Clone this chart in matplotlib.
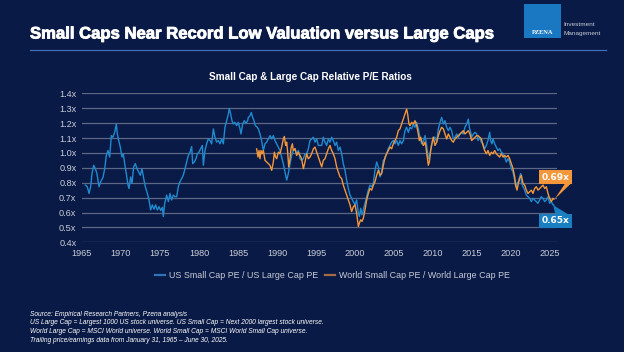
import matplotlib
matplotlib.use('Agg')
import matplotlib.pyplot as plt
import matplotlib.patheffects as pe
from matplotlib.patches import Rectangle, Polygon
from matplotlib.lines import Line2D

# ============================================
# DATA
# ============================================
us_years = [
    1965.43, 1965.68, 1965.90, 1966.11, 1966.28, 1966.50, 1966.71, 1966.92, 1967.18, 1967.39,
    1967.69, 1967.91, 1968.12, 1968.33, 1968.55, 1968.76, 1968.97, 1969.19, 1969.40, 1969.53,
    1969.70, 1969.91, 1970.13, 1970.30, 1970.47, 1970.68, 1970.90, 1971.03, 1971.24, 1971.41,
    1971.62, 1971.84, 1972.05, 1972.26, 1972.48, 1972.69, 1972.91, 1973.12, 1973.38, 1973.59,
    1973.80, 1974.02, 1974.23, 1974.44, 1974.66, 1974.87, 1975.09, 1975.30, 1975.43, 1975.60,
    1975.77, 1975.85, 1976.07, 1976.28, 1976.50, 1976.71, 1976.92, 1977.14, 1977.35, 1977.56,
    1977.78, 1977.99, 1978.21, 1978.42, 1978.63, 1978.85, 1979.06, 1979.19, 1979.40, 1979.62,
    1979.79, 1980.00, 1980.21, 1980.43, 1980.56, 1980.77, 1980.98, 1981.20, 1981.41, 1981.62,
    1981.84, 1982.05, 1982.26, 1982.48, 1982.69, 1982.91, 1983.12, 1983.33, 1983.55, 1983.76,
    1983.89, 1984.06, 1984.23, 1984.40, 1984.62, 1984.83, 1985.04, 1985.26, 1985.38, 1985.60,
    1985.81, 1986.03, 1986.24, 1986.32, 1986.54, 1986.71, 1986.88, 1987.05, 1987.22, 1987.39,
    1987.61, 1987.82, 1988.03, 1988.25, 1988.46, 1988.67, 1988.89, 1989.10, 1989.32, 1989.53,
    1989.74, 1989.96, 1990.17, 1990.38, 1990.60, 1990.81, 1991.03, 1991.24, 1991.45, 1991.67,
    1991.88, 1992.09, 1992.31, 1992.52, 1992.74, 1992.95, 1993.16, 1993.38, 1993.59, 1993.80,
    1994.02, 1994.23, 1994.44, 1994.66, 1994.87, 1995.09, 1995.30, 1995.51, 1995.73, 1995.94,
    1996.15, 1996.37, 1996.58, 1996.79, 1997.01, 1997.22, 1997.44, 1997.65, 1997.86, 1998.08,
    1998.29, 1998.50, 1998.72, 1998.93, 1999.15, 1999.36, 1999.57, 1999.79, 2000.00, 2000.21,
    2000.43, 2000.56, 2000.73, 2000.90, 2001.07, 2001.28, 2001.50, 2001.71, 2001.92, 2002.14,
    2002.35, 2002.56, 2002.78, 2002.99, 2003.21, 2003.42, 2003.63, 2003.85, 2004.06, 2004.27,
    2004.49, 2004.70, 2004.91, 2005.13, 2005.34, 2005.56, 2005.77, 2005.98, 2006.20, 2006.41,
    2006.62, 2006.84, 2007.05, 2007.27, 2007.48, 2007.69, 2007.91, 2008.12, 2008.33, 2008.55,
    2008.76, 2008.98, 2009.19, 2009.40, 2009.62, 2009.83, 2010.04, 2010.26, 2010.47, 2010.68,
    2010.90, 2011.11, 2011.33, 2011.54, 2011.75, 2011.97, 2012.18, 2012.39, 2012.61, 2012.82,
    2013.03, 2013.25, 2013.46, 2013.68, 2013.89, 2014.10, 2014.32, 2014.53, 2014.66, 2014.83,
    2014.96, 2015.17, 2015.39, 2015.60, 2015.77, 2015.98, 2016.20, 2016.41, 2016.62, 2016.84,
    2017.05, 2017.27, 2017.39, 2017.56, 2017.69, 2017.91, 2018.12, 2018.33, 2018.55, 2018.76,
    2018.98, 2019.19, 2019.40, 2019.62, 2019.83, 2020.04, 2020.26, 2020.47, 2020.60, 2020.77,
    2020.94, 2021.11, 2021.24, 2021.37, 2021.54, 2021.75, 2021.97, 2022.18, 2022.39, 2022.61,
    2022.82, 2023.03, 2023.25, 2023.46, 2023.68, 2023.89, 2024.10, 2024.32, 2024.53, 2024.74,
    2024.96, 2025.17, 2025.38, 2025.50,
]
us_pe = [
    0.784, 0.773, 0.728, 0.773, 0.861, 0.917, 0.894, 0.861, 0.773, 0.806,
    0.835, 0.894, 0.983, 1.016, 0.972, 1.116, 1.105, 1.138, 1.194, 1.127,
    1.083, 1.039, 0.972, 0.994, 0.928, 0.861, 0.784, 0.761, 0.839, 0.795,
    0.906, 0.928, 0.894, 0.872, 0.850, 0.894, 0.828, 0.773, 0.728, 0.684,
    0.617, 0.651, 0.622, 0.651, 0.617, 0.639, 0.613, 0.635, 0.573, 0.662,
    0.695, 0.717, 0.673, 0.728, 0.684, 0.717, 0.706, 0.706, 0.773, 0.806,
    0.828, 0.850, 0.894, 0.939, 0.983, 1.005, 1.043, 0.928, 0.939, 0.961,
    0.994, 1.005, 1.028, 1.050, 0.917, 1.016, 1.061, 1.094, 1.083, 1.061,
    1.161, 1.105, 1.072, 1.083, 1.061, 1.094, 1.061, 1.172, 1.216, 1.260,
    1.298, 1.260, 1.216, 1.194, 1.205, 1.183, 1.205, 1.161, 1.127, 1.194,
    1.216, 1.198, 1.216, 1.238, 1.249, 1.271, 1.238, 1.216, 1.183, 1.176,
    1.161, 1.127, 1.083, 1.016, 1.061, 1.072, 1.094, 1.116, 1.094, 1.116,
    1.083, 1.061, 1.039, 1.016, 0.972, 0.928, 0.872, 0.817, 0.861, 0.928,
    0.983, 1.016, 1.028, 0.994, 1.016, 0.961, 0.950, 0.961, 0.994, 0.994,
    1.028, 1.083, 1.094, 1.105, 1.072, 1.094, 1.050, 1.050, 1.050, 1.105,
    1.072, 1.050, 1.094, 1.072, 1.105, 1.083, 1.050, 1.072, 1.016, 1.039,
    0.994, 0.928, 0.883, 0.817, 0.761, 0.717, 0.695, 0.673, 0.651, 0.684,
    0.595, 0.573, 0.628, 0.584, 0.617, 0.662, 0.706, 0.750, 0.784, 0.773,
    0.795, 0.883, 0.939, 0.906, 0.839, 0.872, 0.950, 0.961, 0.994, 1.028,
    1.050, 1.072, 1.083, 1.061, 1.083, 1.050, 1.083, 1.061, 1.083, 1.149,
    1.172, 1.138, 1.172, 1.161, 1.194, 1.172, 1.205, 1.161, 1.105, 1.061,
    1.072, 1.116, 1.050, 0.961, 0.994, 1.061, 1.105, 1.105, 1.072, 1.160,
    1.205, 1.238, 1.194, 1.216, 1.172, 1.149, 1.172, 1.149, 1.094, 1.105,
    1.127, 1.105, 1.127, 1.138, 1.127, 1.172, 1.194, 1.227, 1.172, 1.138,
    1.105, 1.127, 1.138, 1.127, 1.083, 1.105, 1.072, 1.061, 1.028, 1.050,
    1.083, 1.138, 1.083, 1.061, 1.094, 1.061, 1.039, 1.016, 1.028, 1.005,
    0.994, 0.972, 0.939, 0.961, 0.939, 0.894, 0.872, 0.817, 0.773, 0.795,
    0.806, 0.839, 0.861, 0.795, 0.773, 0.750, 0.717, 0.706, 0.695, 0.673,
    0.695, 0.684, 0.673, 0.662, 0.684, 0.706, 0.695, 0.673, 0.684, 0.706,
    0.662, 0.673, 0.651, 0.650,
]

world_years = [
    1987.39, 1987.56, 1987.69, 1987.82, 1987.95, 1988.08, 1988.25, 1988.46, 1988.67, 1988.89,
    1989.10, 1989.32, 1989.53, 1989.66, 1989.83, 1989.96, 1990.17, 1990.38, 1990.60, 1990.81,
    1990.94, 1991.11, 1991.24, 1991.37, 1991.50, 1991.67, 1991.79, 1991.97, 1992.09, 1992.31,
    1992.52, 1992.74, 1992.95, 1993.16, 1993.38, 1993.59, 1993.80, 1994.02, 1994.23, 1994.44,
    1994.66, 1994.87, 1995.09, 1995.30, 1995.51, 1995.73, 1995.94, 1996.15, 1996.37, 1996.58,
    1996.79, 1997.01, 1997.22, 1997.44, 1997.65, 1997.86, 1998.08, 1998.29, 1998.50, 1998.72,
    1998.93, 1999.15, 1999.36, 1999.57, 1999.79, 2000.00, 2000.21, 2000.43, 2000.56, 2000.73,
    2000.90, 2001.07, 2001.28, 2001.50, 2001.71, 2001.92, 2002.14, 2002.35, 2002.56, 2002.78,
    2002.99, 2003.21, 2003.42, 2003.63, 2003.85, 2004.06, 2004.27, 2004.49, 2004.70, 2004.91,
    2005.13, 2005.34, 2005.56, 2005.77, 2005.98, 2006.20, 2006.41, 2006.62, 2006.75, 2006.92,
    2007.05, 2007.27, 2007.48, 2007.69, 2007.91, 2008.12, 2008.25, 2008.42, 2008.59, 2008.76,
    2008.98, 2009.10, 2009.27, 2009.40, 2009.53, 2009.70, 2009.87, 2010.04, 2010.26, 2010.47,
    2010.68, 2010.90, 2011.11, 2011.33, 2011.54, 2011.75, 2011.97, 2012.18, 2012.39, 2012.61,
    2012.82, 2013.03, 2013.25, 2013.46, 2013.68, 2013.89, 2014.10, 2014.32, 2014.53, 2014.74,
    2014.96, 2015.17, 2015.39, 2015.60, 2015.77, 2015.98, 2016.20, 2016.41, 2016.62, 2016.84,
    2017.05, 2017.27, 2017.48, 2017.69, 2017.91, 2018.12, 2018.33, 2018.55, 2018.76, 2018.98,
    2019.19, 2019.40, 2019.62, 2019.83, 2020.04, 2020.26, 2020.47, 2020.60, 2020.77, 2020.94,
    2021.11, 2021.33, 2021.54, 2021.75, 2021.97, 2022.18, 2022.39, 2022.61, 2022.82, 2023.03,
    2023.25, 2023.46, 2023.68, 2023.89, 2024.10, 2024.32, 2024.53, 2024.74, 2024.96, 2025.17,
    2025.38, 2025.50,
]
world_pe = [
    1.027, 0.972, 1.016, 0.961, 1.016, 0.994, 1.016, 0.950, 0.939, 0.928,
    0.917, 0.883, 0.939, 1.005, 0.972, 0.961, 1.005, 0.994, 1.039, 1.094,
    1.110, 1.050, 1.072, 1.005, 0.906, 0.961, 1.028, 1.061, 1.016, 1.028,
    0.983, 1.005, 0.983, 0.961, 0.894, 0.939, 0.994, 0.961, 0.972, 0.994,
    1.027, 1.039, 1.005, 0.972, 0.939, 0.906, 0.950, 0.961, 0.994, 1.027,
    1.050, 1.016, 0.994, 0.961, 0.906, 0.872, 0.839, 0.828, 0.784, 0.750,
    0.717, 0.684, 0.651, 0.606, 0.639, 0.651, 0.595, 0.506, 0.529, 0.551,
    0.540, 0.562, 0.617, 0.684, 0.728, 0.761, 0.750, 0.784, 0.806, 0.850,
    0.883, 0.850, 0.861, 0.917, 0.972, 0.994, 1.016, 1.039, 1.028, 1.061,
    1.083, 1.105, 1.150, 1.161, 1.194, 1.227, 1.260, 1.294, 1.260, 1.194,
    1.183, 1.205, 1.194, 1.216, 1.183, 1.127, 1.083, 1.105, 1.072, 1.050,
    1.072, 1.039, 0.972, 0.917, 0.939, 1.016, 1.061, 1.105, 1.050, 1.072,
    1.116, 1.149, 1.172, 1.161, 1.127, 1.094, 1.127, 1.105, 1.083, 1.072,
    1.094, 1.105, 1.116, 1.127, 1.138, 1.149, 1.127, 1.138, 1.149, 1.127,
    1.083, 1.094, 1.105, 1.116, 1.116, 1.105, 1.094, 1.050, 1.016, 0.994,
    1.016, 0.983, 1.005, 0.994, 1.016, 0.994, 0.983, 0.972, 0.994, 0.972,
    0.983, 0.972, 0.983, 0.961, 0.928, 0.894, 0.839, 0.784, 0.750, 0.795,
    0.828, 0.850, 0.795, 0.784, 0.750, 0.728, 0.739, 0.750, 0.728, 0.761,
    0.773, 0.750, 0.761, 0.773, 0.784, 0.761, 0.773, 0.728, 0.695, 0.673,
    0.695, 0.690,
]

year_ticks = [1965, 1970, 1975, 1980, 1985, 1990, 1995, 2000, 2005, 2010, 2015, 2020, 2025]
pe_ticks = [0.4, 0.5, 0.6, 0.7, 0.8, 0.9, 1.0, 1.1, 1.2, 1.3, 1.4]

us_label = 'US Small Cap PE / US Large Cap PE'
world_label = 'World Small Cap PE / World Large Cap PE'
footnotes = [
    'Source: Empirical Research Partners, Pzena analysis',
    'US Large Cap = Largest 1000 US stock universe. US Small Cap = Next 2000 largest stock universe.',
    'World Large Cap = MSCI World universe. World Small Cap = MSCI World Small Cap universe.',
    'Trailing price/earnings data from January 31, 1965 \u2013 June 30, 2025.',
]

# ============================================
# STYLE
# ============================================
BG = '#0a1a46'
BLUE = '#1f8ad0'
ORANGE = '#f3973a'
GRID = '#5d6885'
TICK = '#c9cdd8'
NARROW = ['Liberation Sans Narrow', 'Liberation Sans', 'DejaVu Sans']
W, H = 624, 352

fig = plt.figure(figsize=(W / 100, H / 100), dpi=100, facecolor=BG)

def fx(px):
    return px / W

def fy(py):
    return 1 - py / H

# title + rule
t = fig.text(fx(30), fy(34), 'Small Caps Near Record Low Valuation versus Large Caps',
             color='white', fontsize=12.0, fontweight='bold', family=['Liberation Sans', 'DejaVu Sans'],
             ha='left', va='center')
t.set_path_effects([pe.withStroke(linewidth=0.6, foreground='white')])
fig.add_artist(Line2D([fx(30), fx(606)], [fy(49.5), fy(49.5)], color='#3f6fb5', lw=0.9))

# logo
fig.add_artist(Rectangle((fx(524), fy(38)), fx(37), 34 / H, facecolor='#1a78c2', edgecolor='none'))
fig.text(fx(542.5), fy(33), 'PZENA', color='white', fontsize=4.6, fontweight='bold',
         family=['Liberation Serif', 'DejaVu Serif'], ha='center', va='center')
fig.text(fx(563), fy(25), 'Investment', color='#c7ccd6', fontsize=4.6, family=NARROW, ha='left', va='center')
fig.text(fx(563), fy(33), 'Management', color='#c7ccd6', fontsize=4.6, family=NARROW, ha='left', va='center')

# chart subtitle
fig.text(fx(310), fy(77), 'Small Cap & Large Cap Relative P/E Ratios', color='white',
         fontsize=7.2, fontweight='bold', family=['Liberation Sans', 'DejaVu Sans'],
         ha='center', va='center')

# ============================================
# AXES
# ============================================
ax = fig.add_axes([fx(82), fy(242.3), (556.7 - 82) / W, (242.3 - 93.3) / H])
ax.set_facecolor(BG)
ax.set_xlim(1965, 2025.86)
ax.set_ylim(0.4, 1.4)
for v in pe_ticks:
    ax.axhline(v, color=GRID, lw=0.9, zorder=1)

ax.plot(us_years, us_pe, color=BLUE, lw=1.0, zorder=3)
ax.plot(world_years, world_pe, color=ORANGE, lw=1.0, zorder=4)

ax.set_xticks(year_ticks)
ax.set_xticklabels([str(y) for y in year_ticks])
ax.set_yticks(pe_ticks)
ax.set_yticklabels([f'{v:.1f}x' for v in pe_ticks])
ax.tick_params(length=0, colors=TICK, labelsize=6.6)
ax.tick_params(axis='y', pad=4)
ax.tick_params(axis='x', pad=5)
for lab in ax.get_xticklabels() + ax.get_yticklabels():
    lab.set_family(NARROW)
for s in ax.spines.values():
    s.set_visible(False)

# end-value callouts
def callout(txt, color, box_c, tip, base):
    ax.add_patch(Polygon([tip, base[0], base[1]], closed=True, facecolor=color,
                         edgecolor='none', clip_on=False, zorder=5))
    ax.text(box_c[0], box_c[1], txt, color='white', fontsize=6.5, fontweight='bold',
            family=['DejaVu Sans'], ha='center', va='center', clip_on=False, zorder=6,
            bbox=dict(boxstyle='square,pad=0.28', facecolor=color, edgecolor='none'))

callout(f'{world_pe[-1]:.2f}x', ORANGE, (2025.7, 0.838), (world_years[-1] + 0.1, world_pe[-1]),
        [(2027.0, 0.80), (2027.8, 0.80)])
callout(f'{us_pe[-1]:.2f}x', '#1a7fc1', (2025.7, 0.543), (us_years[-1] - 0.1, us_pe[-1]),
        [(2025.7, 0.585), (2027.4, 0.585)])

# legend (drawn by hand to match the spacing)
fig.add_artist(Line2D([fx(155), fx(165)], [fy(275), fy(275)], color='#2d74b8', lw=1.6))
fig.text(fx(169), fy(275), us_label, color=TICK, fontsize=6.4, family=NARROW, ha='left', va='center')
fig.add_artist(Line2D([fx(325), fx(335)], [fy(275), fy(275)], color='#a56a3e', lw=1.6))
fig.text(fx(339), fy(275), world_label, color=TICK, fontsize=6.4, family=NARROW, ha='left', va='center')

# footnotes
for i, line in enumerate(footnotes):
    fig.text(fx(30), fy(314 + i * 8.7), line, color='white', fontsize=4.8, style='italic',
             family=NARROW, ha='left', va='center')

fig.savefig('out.png', dpi=100, facecolor=BG)
